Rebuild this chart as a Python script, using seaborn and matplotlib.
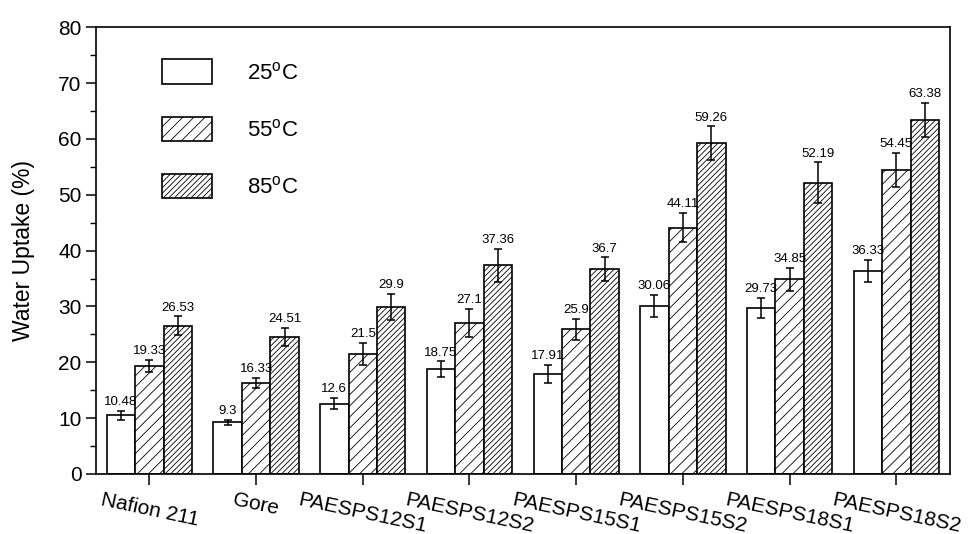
import matplotlib
matplotlib.use("Agg")
import matplotlib.pyplot as plt
from matplotlib.patches import Patch
from matplotlib.ticker import MultipleLocator
import numpy as np
import pandas as pd
import seaborn as sns

MEMBRANES = ["Nafion 211", "Gore", "PAESPS12S1", "PAESPS12S2",
             "PAESPS15S1", "PAESPS15S2", "PAESPS18S1", "PAESPS18S2"]
TEMPS = ["25", "55", "85"]

UPTAKE_25 = [10.48, 9.3, 12.6, 18.75, 17.91, 30.06, 29.73, 36.33]
UPTAKE_55 = [19.33, 16.33, 21.5, 27.1, 25.9, 44.11, 34.85, 54.45]
UPTAKE_85 = [26.53, 24.51, 29.9, 37.36, 36.7, 59.26, 52.19, 63.38]

ERR_25 = [0.8, 0.45, 1.05, 1.4, 1.6, 2.0, 1.85, 2.0]
ERR_55 = [1.1, 0.85, 2.0, 2.5, 1.9, 2.6, 2.0, 3.0]
ERR_85 = [1.7, 1.6, 2.3, 2.9, 2.1, 3.0, 3.6, 3.1]

HATCHES = ["", "///", "//////"]

plt.rcParams["font.family"] = ["Liberation Sans", "DejaVu Sans"]
plt.rcParams["mathtext.fontset"] = "custom"
plt.rcParams["mathtext.rm"] = "Liberation Sans"
plt.rcParams["hatch.linewidth"] = 0.6

df = pd.DataFrame({
    "membrane": MEMBRANES * 3,
    "temp": np.repeat(TEMPS, len(MEMBRANES)),
    "uptake": UPTAKE_25 + UPTAKE_55 + UPTAKE_85,
})
errs = [ERR_25, ERR_55, ERR_85]

fig = plt.figure(figsize=(9.75, 5.34), dpi=100)
ax = fig.add_axes([0.0985, 0.1124, 0.8755, 0.8366])

sns.barplot(data=df, x="membrane", y="uptake", hue="temp", order=MEMBRANES,
            hue_order=TEMPS, palette=["white"] * 3, edgecolor="black",
            linewidth=1.2, errorbar=None, width=0.8, legend=False, ax=ax)

# hatch per temperature + error bars and value labels on top
for cont, hatch, err in zip(ax.containers, HATCHES, errs):
    xs, hs = [], []
    for bar in cont:
        bar.set_hatch(hatch)
        xs.append(bar.get_x() + bar.get_width() / 2)
        hs.append(bar.get_height())
    ax.errorbar(xs, hs, yerr=err, fmt="none", ecolor="black",
                elinewidth=1.1, capsize=3, capthick=1.1)
    for x, h, e in zip(xs, hs, err):
        ax.text(x, h + e + 0.5, f"{h:g}", ha="center", va="bottom", fontsize=9.5)

ax.set_xlim(-0.5, 7.5)
ax.set_ylim(0, 80)
ax.yaxis.set_major_locator(MultipleLocator(10))
ax.yaxis.set_minor_locator(MultipleLocator(5))
ax.tick_params(axis="both", direction="out", width=1.1, labelsize=15)
ax.tick_params(axis="y", which="major", length=7)
ax.tick_params(axis="y", which="minor", length=4, width=1.0)
ax.tick_params(axis="x", length=8)
for lab in ax.get_xticklabels():
    lab.set_rotation(-12)
    lab.set_ha("center")
for s in ax.spines.values():
    s.set_linewidth(1.2)
ax.set_xlabel("")
ax.set_ylabel("Water Uptake (%)", fontsize=16.5)
ax.yaxis.set_label_coords(-0.072, 0.5)

handles = [Patch(facecolor="white", edgecolor="black", hatch=h, linewidth=1.2,
                 label=f"{t}$^\\mathrm{{o}}$C") for h, t in zip(HATCHES, TEMPS)]
ax.legend(handles=handles, loc="upper left", bbox_to_anchor=(0.077, 0.928),
          frameon=False, fontsize=16, handlelength=2.25, handleheight=1.3,
          labelspacing=1.47, handletextpad=1.6, borderaxespad=0, borderpad=0)

fig.savefig("out.png", dpi=100, facecolor="white")
